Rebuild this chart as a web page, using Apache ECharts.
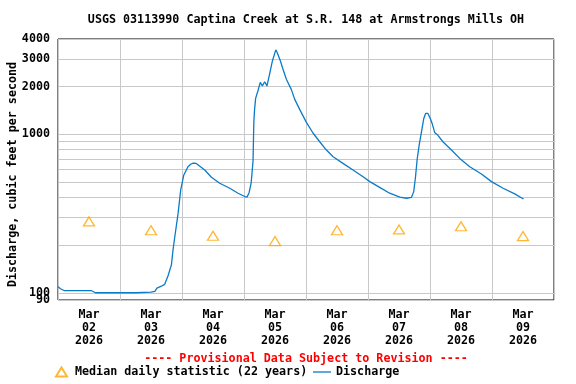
<!DOCTYPE html>
<html>
<head>
<meta charset="utf-8">
<script src="https://cdn.jsdelivr.net/npm/echarts@6/dist/echarts.min.js"></script>
<style>
  html, body { margin: 0; padding: 0; background: #fff; }
  #chart { width: 576px; height: 384px; }
</style>
</head>
<body>
<div id="chart"></div>
<script>
// hours counted from Mar 02 2026 00:00
const dischargeHours = [
  0, 1, 2.5, 8, 13, 14.5, 20, 26, 30, 36, 37.5, 38.3, 40, 41.3, 42.6, 43.9, 44.5, 45.2, 46.5, 47.5,
  48.7, 50.3, 51.5, 52.3, 53.5, 54.2, 56.8, 59.4, 62.6, 66.5, 69.7, 72.3, 73.2, 74.0, 74.8, 75.5,
  75.8, 76.1, 76.5, 77.4, 78.3, 79.1, 80.0, 80.9, 81.9, 83.0, 84.3, 84.8, 85.2, 86.1, 87.1, 88.4,
  90.3, 91.6, 93.5, 96.1, 98.7, 101.3, 103.9, 106.5, 110.3, 114.2, 118.1, 120.7, 124.5, 128.4,
  132.3, 134.9, 136.8, 137.7, 138.4, 139.0, 139.8, 140.7, 141.6, 142.3, 143.2, 144.1, 144.9,
  145.8, 147.0, 149.0, 152.3, 155.5, 159.4, 163.9, 167.8, 172.3, 176.8, 180.2
];
const dischargeCfs = [
  109, 106, 103, 103, 103, 100, 100, 100, 100, 101, 102, 107, 110, 113, 128, 150, 185, 225, 318, 446,
  554, 625, 650, 658, 655, 648, 596, 536, 491, 457, 425, 405, 402, 430, 498, 682,
  1190, 1443, 1686, 1884, 2127, 2024, 2148, 2024, 2397, 2906, 3414, 3300, 3253, 2906, 2578, 2228,
  1924, 1669, 1443, 1195, 1020, 898, 796, 722, 656, 596, 540, 503, 463, 425,
  401, 395, 400, 435, 540, 689, 856, 1038, 1261, 1356, 1356, 1261, 1161,
  1029, 990, 898, 796, 705, 625, 562, 503, 457, 421, 391
];

const medianHours = [12, 36, 60, 84, 108, 132, 156, 180];
const medianCfs = [282, 248, 229, 212, 248, 251, 263, 228];

const dayLabels = ['02', '03', '04', '05', '06', '07', '08', '09'];
const dayStartHours = [0, 24, 48, 72, 96, 120, 144, 168, 192];
const yGridValues = [90, 100, 200, 300, 400, 500, 600, 700, 800, 900, 1000, 2000, 3000, 4000];
const yLabelValues = [90, 1000, 2000, 3000, 4000];
const yLabelValuesExtra = [100]; // sits on top of the 90 label, needs its own axis

const FONT = '"DejaVu Sans Mono", "Liberation Mono", monospace';
const GRID_COLOR = '#c8c8c8';
const BLUE = '#0a7bc8';

let chart = echarts.init(document.getElementById('chart'));

const txt = { fontFamily: FONT, fontWeight: 'bold', fontSize: 11.7, color: '#000' };

chart.setOption({
  animation: false,
  grid: {
    left: 58, right: 22, top: 39, bottom: 84, outerBoundsMode: 'none', containLabel: false,
    show: true, borderColor: '#000', borderWidth: 1
  },
  graphic: [
    { type: 'text', x: 306, y: 20,
      style: { text: 'USGS 03113990 Captina Creek at S.R. 148 at Armstrongs Mills OH', align: 'center', verticalAlign: 'middle',
        font: 'bold 11.7px ' + FONT, fill: '#000' } },
    { type: 'text', x: 306, y: 359,
      style: { text: '---- Provisional Data Subject to Revision ----', align: 'center', verticalAlign: 'middle',
        font: 'bold 11.7px ' + FONT, fill: '#ff0000' } }
  ],
  legend: [
    { data: ['Median daily statistic (22 years)'], left: 55, top: 366, padding: 0,
      itemWidth: 11, itemHeight: 9, textStyle: Object.assign({ padding: [0, 0, 0, 3] }, txt) },
    { data: [{ name: 'Discharge', icon: 'rect' }], left: 313, top: 366, padding: 0,
      itemWidth: 18, itemHeight: 1.3, textStyle: txt }
  ],
  xAxis: {
    type: 'value', min: 0, max: 192, interval: 24,
    axisLine: { show: false },
    axisTick: { show: false, customValues: dayStartHours },
    axisLabel: Object.assign({
      customValues: medianHours, margin: 8, lineHeight: 13, hideOverlap: false,
      formatter: function (v) {
        return 'Mar\n' + dayLabels[Math.round((v - 12) / 24)] + '\n2026';
      }
    }, txt),
    splitLine: { show: true, lineStyle: { color: GRID_COLOR, width: 1 } }
  },
  yAxis: [
    {
      type: 'log', logBase: 10, min: 90, max: 4000,
      name: 'Discharge, cubic feet per second', nameLocation: 'middle', nameGap: 39,
      nameMoveOverlap: false,
      nameTextStyle: Object.assign({ padding: [0, 10, 0, 0] }, txt),
      axisLine: { show: false },
      axisTick: { show: false, customValues: yGridValues },
      axisLabel: Object.assign({
        customValues: yLabelValues, margin: 8, hideOverlap: false, showMinLabel: true,
        formatter: function (v) { return String(Math.round(v)); }
      }, txt),
      splitLine: { show: true, lineStyle: { color: GRID_COLOR, width: 1 } }
    },
    {
      type: 'log', logBase: 10, min: 90, max: 4000, position: 'left', offset: 0,
      axisLine: { show: false },
      axisTick: { show: false, customValues: yLabelValuesExtra },
      axisLabel: Object.assign({
        customValues: yLabelValuesExtra, margin: 8, hideOverlap: false,
        formatter: function (v) { return String(Math.round(v)); }
      }, txt),
      splitLine: { show: false }
    }
  ],
  series: [
    {
      name: 'Median daily statistic (22 years)', type: 'scatter',
      symbol: 'triangle', symbolSize: [11, 9],
      itemStyle: { color: 'rgba(255,255,255,0)', borderColor: '#ffa500', borderWidth: 1.3 },
      data: medianHours.map((h, i) => [h, medianCfs[i]]),
      z: 3
    },
    {
      name: 'Discharge', type: 'line', showSymbol: false, symbol: 'none',
      lineStyle: { color: BLUE, width: 1.3 },
      itemStyle: { color: BLUE },
      data: dischargeHours.map((h, i) => [h, dischargeCfs[i]]),
      z: 2
    }
  ]
});

window.onresize = function () {
  chart.resize();
};
</script>
</body>
</html>
